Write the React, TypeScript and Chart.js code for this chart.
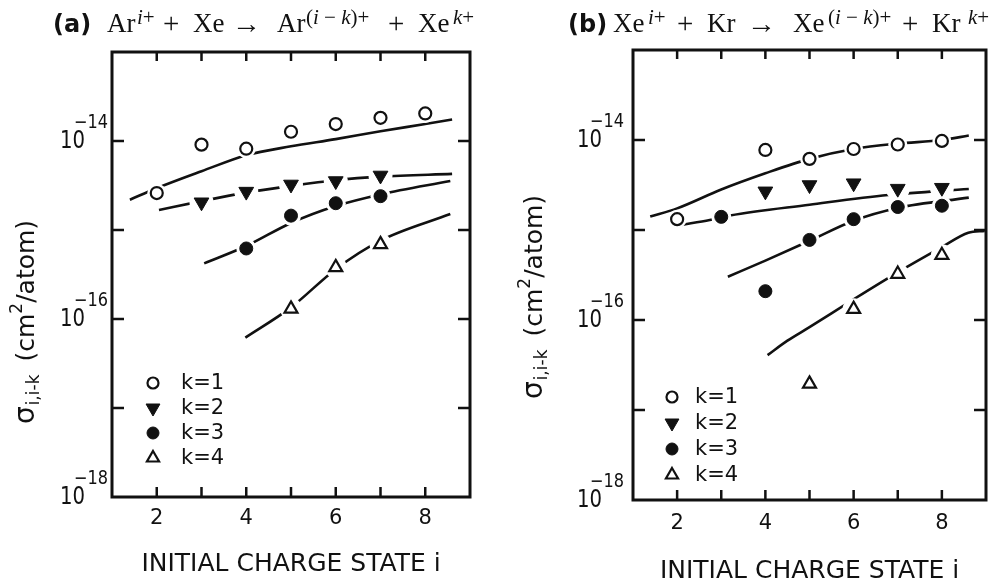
import React, { useEffect, useRef } from 'react';
import { Chart, registerables } from 'chart.js';
import { drawPoint } from 'chart.js/helpers';
Chart.register(...registerables);

const INK = '#111';
const SANS = "'DejaVu Sans', 'Liberation Sans', sans-serif";
const SERIF = "'Liberation Serif', 'DejaVu Serif', serif";

// ---- axes ----
const X_MIN = 1;
const X_MAX = 9;
const X_TICK_MARKS = [2, 3, 4, 5, 6, 7, 8];
const X_TICK_LABELS = [2, 4, 6, 8];
const X_TITLE = 'INITIAL CHARGE STATE i';
const Y_MIN = 1e-18;
const Y_MAX = 1e-13;
const Y_TICK_MARKS = [1e-17, 1e-16, 1e-15, 1e-14];
const Y_LABEL_VALUES = [1e-14, 1e-16, 1e-18];
const LEGEND_LABELS = ['k=1', 'k=2', 'k=3', 'k=4'];

// ---- panel (a): Ar^{i+} + Xe ----
const A_K1_I = [2, 3, 4, 5, 6, 7, 8];
const A_K1 = [2.6e-15, 9.1e-15, 8.2e-15, 1.27e-14, 1.55e-14, 1.82e-14, 2.04e-14];
const A_K2_I = [3, 4, 5, 6, 7];
const A_K2 = [2.05e-15, 2.7e-15, 3.25e-15, 3.55e-15, 4.1e-15];
const A_K3_I = [4, 5, 6, 7];
const A_K3 = [6.2e-16, 1.45e-15, 2.0e-15, 2.4e-15];
const A_K4_I = [5, 6, 7];
const A_K4 = [1.3e-16, 3.8e-16, 6.9e-16];

const A_FIT1_I = [1.4, 2, 3, 4, 5, 6, 7, 8, 8.6];
const A_FIT1 = [2.19e-15, 2.95e-15, 4.57e-15, 6.92e-15, 8.71e-15, 1.05e-14, 1.29e-14, 1.55e-14, 1.74e-14];
const A_FIT2_I = [2.05, 3, 4, 5, 6, 7, 8.6];
const A_FIT2 = [1.68e-15, 2.11e-15, 2.63e-15, 3.13e-15, 3.63e-15, 3.98e-15, 4.27e-15];
const A_FIT3_I = [3.06, 4, 5, 6, 7, 8.56];
const A_FIT3 = [4.22e-16, 6.61e-16, 1.2e-15, 1.86e-15, 2.51e-15, 3.55e-15];
const A_FIT4_I = [3.98, 5, 6, 7, 8.56];
const A_FIT4 = [6.17e-17, 1.35e-16, 3.63e-16, 7.59e-16, 1.51e-15];

// ---- panel (b): Xe^{i+} + Kr ----
const B_K1_I = [2, 4, 5, 6, 7, 8];
const B_K1 = [1.32e-15, 7.76e-15, 6.17e-15, 7.94e-15, 8.91e-15, 9.77e-15];
const B_K2_I = [4, 5, 6, 7, 8];
const B_K2 = [2.69e-15, 3.16e-15, 3.31e-15, 2.88e-15, 2.95e-15];
const B_K3_I = [3, 4, 5, 6, 7, 8];
const B_K3 = [1.4e-15, 2.09e-16, 7.76e-16, 1.32e-15, 1.8e-15, 1.86e-15];
const B_K4_I = [5, 6, 7, 8];
const B_K4 = [1.95e-17, 1.32e-16, 3.24e-16, 5.25e-16];

const B_FIT1_I = [1.39, 2, 3, 4, 5, 6, 7, 8, 8.61];
const B_FIT1 = [1.41e-15, 1.74e-15, 2.82e-15, 4.27e-15, 6.17e-15, 7.94e-15, 9.12e-15, 1.0e-14, 1.12e-14];
const B_FIT2_I = [2.1, 2.74, 3.2, 5, 6.78, 8.61];
const B_FIT2 = [1.14e-15, 1.29e-15, 1.45e-15, 1.91e-15, 2.45e-15, 2.85e-15];
const B_FIT3_I = [3.15, 4, 5, 6, 7, 8.61];
const B_FIT3 = [3.02e-16, 4.57e-16, 7.59e-16, 1.27e-15, 1.76e-15, 2.29e-15];
const B_FIT4_I = [4.05, 4.5, 5, 6, 7, 8, 8.6, 8.97];
const B_FIT4 = [4.07e-17, 5.89e-17, 8.32e-17, 1.7e-16, 3.39e-16, 6.46e-16, 9.33e-16, 9.77e-16];

const MARKERS = [
  { pointStyle: 'circle', rotation: 0, radius: 6, fill: '#fff', borderWidth: 2.2 },
  { pointStyle: 'triangle', rotation: 180, radius: 8.5, fill: INK, borderWidth: 1 },
  { pointStyle: 'circle', rotation: 0, radius: 6.5, fill: INK, borderWidth: 1 },
  { pointStyle: 'triangle', rotation: 0, radius: 7.5, fill: '#fff', borderWidth: 2.2 },
];

const PANEL_A = {
  left: 0, padTop: 52, padRight: 29, yWidth: 112, xHeight: 87, xTickPad: 9, xTitlePad: 7,
  tenRight: 85, expLeft: 74, yTitleX: 34, yTitleY: 322,
  legMarkX: 153, legTextX: 181, legY0: 383, legDy: 25,
  markers: [[A_K1_I, A_K1], [A_K2_I, A_K2], [A_K3_I, A_K3], [A_K4_I, A_K4]],
  fits: [[A_FIT1_I, A_FIT1], [A_FIT2_I, A_FIT2], [A_FIT3_I, A_FIT3], [A_FIT4_I, A_FIT4]],
};
const PANEL_B = {
  left: 499, padTop: 50, padRight: 8, yWidth: 134, xHeight: 84, xTickPad: 11, xTitlePad: 0,
  tenRight: 103, expLeft: 91, yTitleX: 43, yTitleY: 297,
  legMarkX: 173, legTextX: 196, legY0: 397, legDy: 26,
  markers: [[B_K1_I, B_K1], [B_K2_I, B_K2], [B_K3_I, B_K3], [B_K4_I, B_K4]],
  fits: [[B_FIT1_I, B_FIT1], [B_FIT2_I, B_FIT2], [B_FIT3_I, B_FIT3], [B_FIT4_I, B_FIT4]],
};

const TITLE_A: [string, number, string][] = [
  ['(a)', 53, 'label'], ['Ar', 107, 'main'], ['i+', 137, 'sup'], ['+', 163, 'op'], ['Xe', 193, 'main'],
  ['→', 232, 'op'], ['Ar', 277, 'main'], ['(i − k)+', 306, 'sup'], ['+', 388, 'op'], ['Xe', 418, 'main'], ['k+', 453, 'sup'],
];
const TITLE_B: [string, number, string][] = [
  ['(b)', 568, 'label'], ['Xe', 613, 'main'], ['i+', 648, 'sup'], ['+', 677, 'op'], ['Kr', 707, 'main'],
  ['→', 747, 'op'], ['Xe', 793, 'main'], ['(i − k)+', 828, 'sup'], ['+', 902, 'op'], ['Kr', 932, 'main'], ['k+', 968, 'sup'],
];

const toPts = (xs: number[], ys: number[]) => xs.map((x, j) => ({ x, y: ys[j] }));

function buildDatasets(cfg: any) {
  const ds: any[] = [];
  cfg.fits.forEach((f: any, k: number) => {
    ds.push({
      label: 'fit ' + LEGEND_LABELS[k], data: toPts(f[0], f[1]), showLine: true,
      borderColor: INK, borderWidth: 2.6, pointRadius: 0, cubicInterpolationMode: 'monotone', order: 3,
    });
  });
  cfg.markers.forEach((m: any, k: number) => {
    const st = MARKERS[k];
    ds.push({
      label: 'halo ' + LEGEND_LABELS[k], data: toPts(m[0], m[1]), showLine: false,
      pointStyle: 'circle', pointRadius: st.radius + 3.5, pointBackgroundColor: '#fff', pointBorderWidth: 0, order: 2,
    });
    ds.push({
      label: LEGEND_LABELS[k], data: toPts(m[0], m[1]), showLine: false,
      pointStyle: st.pointStyle, rotation: st.rotation, pointRadius: st.radius,
      pointBackgroundColor: st.fill, pointBorderColor: INK, pointBorderWidth: st.borderWidth, order: 1,
    });
  });
  return ds;
}

const decor = {
  id: 'decor',
  afterDraw(chart: any, _a: any, o: any) {
    const { ctx, chartArea: ca } = chart;
    const xs = chart.scales.x;
    const ys = chart.scales.y;
    ctx.save();
    ctx.strokeStyle = INK;
    ctx.fillStyle = INK;
    ctx.lineWidth = 3;
    ctx.strokeRect(ca.left, ca.top, ca.right - ca.left, ca.bottom - ca.top);
    ctx.lineWidth = 2.5;
    ctx.beginPath();
    X_TICK_MARKS.forEach((v) => {
      const px = xs.getPixelForValue(v);
      ctx.moveTo(px, ca.bottom); ctx.lineTo(px, ca.bottom - 10);
      ctx.moveTo(px, ca.top); ctx.lineTo(px, ca.top + 9);
    });
    Y_TICK_MARKS.forEach((v) => {
      const py = ys.getPixelForValue(v);
      ctx.moveTo(ca.left, py); ctx.lineTo(ca.left + 12, py);
      ctx.moveTo(ca.right, py); ctx.lineTo(ca.right - 12, py);
    });
    ctx.stroke();

    // y tick labels 10^e
    Y_LABEL_VALUES.forEach((v) => {
      const py = ys.getPixelForValue(v);
      const e = Math.round(Math.log10(v));
      ctx.save();
      ctx.translate(o.tenRight, py);
      ctx.scale(0.82, 1);
      ctx.font = `24px ${SANS}`;
      ctx.textAlign = 'right';
      ctx.textBaseline = 'middle';
      ctx.fillText('10', 0, 1);
      ctx.restore();
      ctx.save();
      ctx.translate(o.expLeft, py - 18);
      ctx.scale(0.85, 1);
      ctx.font = `19px ${SANS}`;
      ctx.textAlign = 'left';
      ctx.textBaseline = 'middle';
      ctx.fillText('−' + Math.abs(e), 0, 0);
      ctx.restore();
    });

    // y axis title
    const pieces = [
      { t: 'σ', size: 28, dy: 0, gap: 1 },
      { t: 'i,i-k', size: 17, dy: 5, gap: 13 },
      { t: '(cm', size: 25, dy: 0, gap: 0 },
      { t: '2', size: 17, dy: -12, gap: 0 },
      { t: '/atom)', size: 25, dy: 0, gap: 0 },
    ];
    ctx.save();
    ctx.translate(o.yTitleX, o.yTitleY);
    ctx.rotate(-Math.PI / 2);
    ctx.textAlign = 'left';
    ctx.textBaseline = 'alphabetic';
    let total = 0;
    const widths = pieces.map((p) => {
      ctx.font = `${p.size}px ${SANS}`;
      const w = ctx.measureText(p.t).width;
      total += w + p.gap;
      return w;
    });
    let cx = -total / 2;
    pieces.forEach((p, i) => {
      ctx.font = `${p.size}px ${SANS}`;
      ctx.fillText(p.t, cx, p.dy);
      cx += widths[i] + p.gap;
    });
    ctx.restore();

    // legend
    LEGEND_LABELS.forEach((lab, k) => {
      const st = MARKERS[k];
      const y = o.legY0 + k * o.legDy;
      ctx.fillStyle = st.fill;
      ctx.strokeStyle = INK;
      ctx.lineWidth = st.borderWidth;
      drawPoint(ctx, { pointStyle: st.pointStyle, rotation: st.rotation, radius: st.radius - 0.5, borderWidth: st.borderWidth }, o.legMarkX, y);
      ctx.fillStyle = INK;
      ctx.font = `21px ${SANS}`;
      ctx.textAlign = 'left';
      ctx.textBaseline = 'middle';
      ctx.fillText(lab, o.legTextX, y + 1);
    });
    ctx.restore();
  },
};

function Panel({ cfg }: { cfg: any }) {
  const ref = useRef<HTMLCanvasElement>(null);
  useEffect(() => {
    const chart = new Chart(ref.current as HTMLCanvasElement, {
      type: 'scatter',
      data: { datasets: buildDatasets(cfg) },
      options: {
        animation: false,
        responsive: false,
        devicePixelRatio: 1,
        events: [],
        layout: { padding: { top: cfg.padTop, right: cfg.padRight, left: 0, bottom: 0 } },
        plugins: { legend: { display: false }, tooltip: { enabled: false }, decor: cfg } as any,
        scales: {
          x: {
            type: 'linear', min: X_MIN, max: X_MAX, position: 'bottom',
            afterFit: (s: any) => { s.height = cfg.xHeight; },
            grid: { display: false, drawTicks: false },
            border: { display: false },
            ticks: {
              stepSize: 1, autoSkip: false, maxRotation: 0, padding: cfg.xTickPad, color: INK,
              font: { family: SANS, size: 21 },
              callback: (v: any) => (X_TICK_LABELS.includes(v) ? String(v) : ''),
            },
            title: {
              display: true, text: X_TITLE, color: INK,
              font: { family: SANS, size: 25, lineHeight: 1 }, padding: { top: 0, bottom: cfg.xTitlePad },
            },
          },
          y: {
            type: 'logarithmic', min: Y_MIN, max: Y_MAX, position: 'left',
            afterFit: (s: any) => { s.width = cfg.yWidth; },
            grid: { display: false, drawTicks: false },
            border: { display: false },
            ticks: { display: false },
          },
        },
      } as any,
      plugins: [decor],
    });
    return () => chart.destroy();
  }, []);
  return (
    <canvas ref={ref} width={499} height={584}
      style={{ position: 'absolute', left: cfg.left, top: 0, width: 499, height: 584 }} />
  );
}

function SupText({ s }: { s: string }) {
  return (
    <>
      {Array.from(s).map((ch, i) =>
        ch === 'i' || ch === 'k' ? <i key={i}>{ch}</i> : <React.Fragment key={i}>{ch}</React.Fragment>
      )}
    </>
  );
}

function Title({ tokens }: { tokens: [string, number, string][] }) {
  return (
    <>
      {tokens.map(([t, x, kind], i) => {
        const base: React.CSSProperties = { position: 'absolute', left: x, lineHeight: 1, whiteSpace: 'pre', color: INK };
        if (kind === 'label') {
          return <span key={i} style={{ ...base, top: 12, fontFamily: SANS, fontWeight: 'bold', fontSize: 24 }}>{t}</span>;
        }
        if (kind === 'sup') {
          return <span key={i} style={{ ...base, top: 7, fontFamily: SERIF, fontSize: 21 }}><SupText s={t} /></span>;
        }
        if (kind === 'op') {
          return <span key={i} style={{ ...base, top: 9, fontFamily: SERIF, fontSize: 29 }}>{t}</span>;
        }
        return <span key={i} style={{ ...base, top: 10, fontFamily: SERIF, fontSize: 27 }}>{t}</span>;
      })}
    </>
  );
}

export default function App() {
  return (
    <div style={{ position: 'absolute', left: 0, top: 0, width: 998, height: 584, background: '#fff', overflow: 'hidden' }}>
      <Panel cfg={PANEL_A} />
      <Panel cfg={PANEL_B} />
      <Title tokens={TITLE_A} />
      <Title tokens={TITLE_B} />
    </div>
  );
}
